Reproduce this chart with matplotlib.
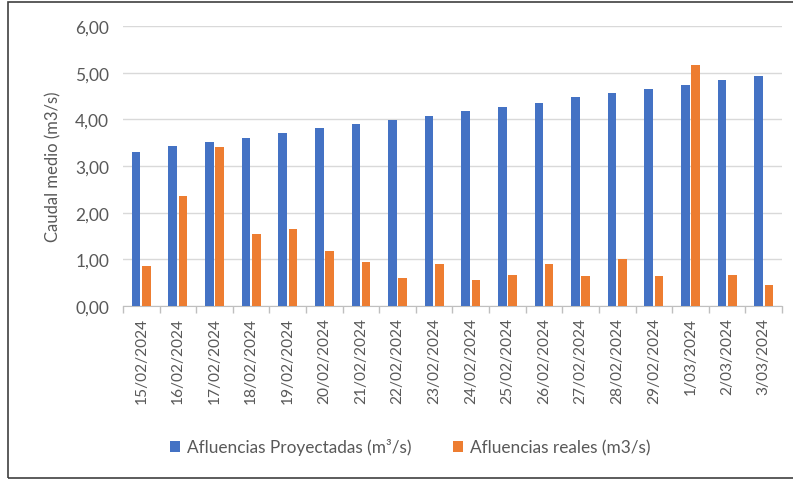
import numpy as np
import matplotlib
matplotlib.use("Agg")
import matplotlib.pyplot as plt
from matplotlib.patches import Rectangle

# --- data ---
fechas = ["15/02/2024", "16/02/2024", "17/02/2024", "18/02/2024", "19/02/2024",
          "20/02/2024", "21/02/2024", "22/02/2024", "23/02/2024", "24/02/2024",
          "25/02/2024", "26/02/2024", "27/02/2024", "28/02/2024", "29/02/2024",
          "1/03/2024", "2/03/2024", "3/03/2024"]
proyectadas = [3.31, 3.42, 3.51, 3.61, 3.70, 3.81, 3.90, 3.99, 4.08,
               4.17, 4.26, 4.36, 4.47, 4.56, 4.65, 4.74, 4.84, 4.92]
reales = [0.86, 2.36, 3.41, 1.54, 1.65, 1.17, 0.94, 0.59, 0.90,
          0.56, 0.66, 0.90, 0.64, 1.00, 0.64, 5.16, 0.66, 0.44]
yticks = [0, 1, 2, 3, 4, 5, 6]

plt.rcParams['font.family'] = ['Lato', 'DejaVu Sans']
txt = '#595959'
azul = '#4472c4'
naranja = '#ed7d31'

fig = plt.figure(figsize=(7.93, 4.81), dpi=100)
ax = fig.add_axes([123 / 793, 1 - 307 / 481, 659 / 793, 280 / 481])

x = np.arange(len(fechas))
w = 0.235
gap = 0.045
ax.bar(x - (w + gap) / 2, proyectadas, w, color=azul, label='Afluencias Proyectadas (m³/s)', zorder=3)
ax.bar(x + (w + gap) / 2, reales, w, color=naranja, label='Afluencias reales (m3/s)', zorder=3)

ax.set_xlim(-0.5, len(fechas) - 0.5)
ax.set_ylim(0, 6)
ax.set_yticks(yticks)
ax.set_yticklabels([f"{v:.2f}".replace('.', ',') for v in yticks], fontsize=12.5, color=txt)
ax.yaxis.grid(True, color='#d9d9d9', linewidth=1, zorder=0)
ax.tick_params(axis='y', length=0, pad=10)

# category labels centred, tick marks on category boundaries
ax.set_xticks(x)
ax.set_xticklabels(fechas, rotation=90, fontsize=11.2, color=txt)
ax.set_xticks(np.arange(-0.5, len(fechas)), minor=True)
ax.tick_params(axis='x', which='major', length=0, pad=8)
ax.tick_params(axis='x', which='minor', length=5, color='#bfbfbf', width=1)

for s in ['top', 'right', 'left']:
    ax.spines[s].set_visible(False)
ax.spines['bottom'].set_color('#bfbfbf')

ax.set_ylabel('Caudal medio (m3/s)', fontsize=12, color=txt, labelpad=10)

fig.legend(loc='center', bbox_to_anchor=(410 / 793, 1 - 448 / 481), ncol=2,
           frameon=False, fontsize=12.4, labelcolor=txt, handlelength=0.6,
           handleheight=0.6, handletextpad=0.4, columnspacing=2.4)

# outer chart border
fig.patches.append(Rectangle((8 / 793, 2 / 481), 790 / 793, 476 / 481, transform=fig.transFigure,
                             fill=False, edgecolor='#404040', linewidth=1.2))

fig.savefig('out.png', dpi=100)
